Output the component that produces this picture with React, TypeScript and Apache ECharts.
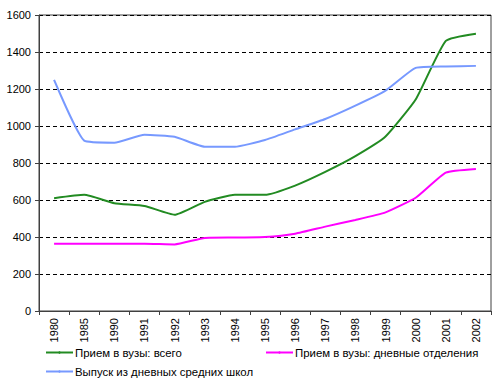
import React, { useEffect, useRef } from "react";
import * as echarts from "echarts";

const years = ["1980", "1985", "1990", "1991", "1992", "1993", "1994", "1995", "1996", "1997", "1998", "1999", "2000", "2001", "2002"];
const admissionsTotal = [610, 628, 583, 568, 520, 590, 628, 628, 678, 752, 837, 943, 1143, 1460, 1499];
const admissionsDay = [364, 364, 364, 364, 360, 395, 397, 400, 418, 456, 492, 533, 612, 748, 768];
const graduates = [1249, 921, 910, 953, 942, 888, 888, 924, 982, 1038, 1110, 1191, 1314, 1322, 1325];

const nameTotal = "Прием в вузы: всего";
const nameDay = "Прием в вузы: дневные отделения";
const nameGrad = "Выпуск из дневных средних школ";

const green = "#228B22";
const pink = "#FF00FF";
const blue = "#7799FF";

export default function App() {
  const ref = useRef<HTMLDivElement>(null);
  useEffect(() => {
    if (!ref.current) return;
    const chart = echarts.init(ref.current, null, { renderer: "svg" });
    const font = "Arial, 'Liberation Sans', sans-serif";
    const legendBase = {
      orient: "horizontal",
      itemWidth: 27,
      itemHeight: 3,
      itemGap: 0,
      padding: 0,
      textStyle: { fontFamily: font, fontSize: 11.4, color: "#000", padding: [0, 0, 0, -3] },
    };
    chart.setOption({
      animation: false,
      backgroundColor: "#fff",
      grid: {
        left: 39,
        right: 5,
        top: 15,
        bottom: 78,
        show: true,
        borderColor: "#404040",
        borderWidth: 1,
        backgroundColor: "transparent",
      },
      legend: [
        { ...legendBase, data: [nameTotal], left: 45, top: 347 },
        { ...legendBase, data: [nameDay], left: 265, top: 347 },
        { ...legendBase, data: [nameGrad], left: 45, top: 366 },
      ],
      xAxis: {
        type: "category",
        data: years,
        boundaryGap: true,
        axisLine: { lineStyle: { color: "#404040", width: 1 } },
        axisTick: { show: true, length: 4, inside: false, lineStyle: { color: "#404040" } },
        axisLabel: {
          rotate: 90,
          interval: 0,
          margin: 7,
          fontFamily: font,
          fontSize: 11,
          color: "#000",
        },
      },
      yAxis: {
        type: "value",
        min: 0,
        max: 1600,
        interval: 200,
        axisLine: { show: true, lineStyle: { color: "#404040", width: 1 } },
        axisTick: { show: true, length: 4, lineStyle: { color: "#404040" } },
        axisLabel: {
          margin: 8,
          fontFamily: font,
          fontSize: 11,
          color: "#000",
          formatter: (v: number) => String(v),
        },
        splitLine: { show: true, lineStyle: { color: "#000", type: [4, 3], width: 1 } },
      },
      series: [
        {
          name: nameTotal,
          type: "line",
          data: admissionsTotal,
          smooth: 0.15,
          symbol: "none",
          lineStyle: { color: green, width: 2 },
          itemStyle: { color: green },
        },
        {
          name: nameDay,
          type: "line",
          data: admissionsDay,
          smooth: 0.15,
          symbol: "none",
          lineStyle: { color: pink, width: 2 },
          itemStyle: { color: pink },
        },
        {
          name: nameGrad,
          type: "line",
          data: graduates,
          smooth: 0.15,
          symbol: "none",
          lineStyle: { color: blue, width: 2 },
          itemStyle: { color: blue },
        },
      ],
    });
    return () => chart.dispose();
  }, []);
  return <div ref={ref} style={{ width: 496, height: 389, position: "absolute", left: 0, top: 0 }} />;
}
